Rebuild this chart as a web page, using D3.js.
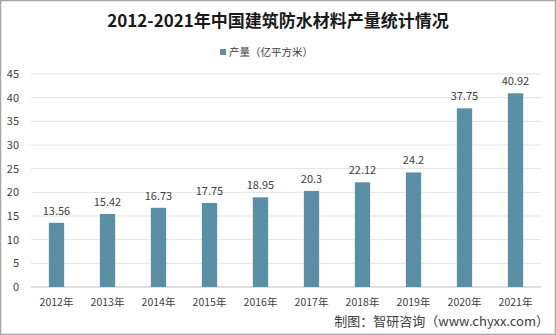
<!DOCTYPE html>
<html><head><meta charset="utf-8">
<script src="https://cdn.jsdelivr.net/npm/d3@7"></script>
<style>body{margin:0;background:#fff}svg{display:block}</style>
</head><body>
<script>
const categories = ["2012年","2013年","2014年","2015年","2016年","2017年","2018年","2019年","2020年","2021年"];
const values = [13.56,15.42,16.73,17.75,18.95,20.3,22.12,24.2,37.75,40.92];
const valueLabels = ["13.56","15.42","16.73","17.75","18.95","20.3","22.12","24.2","37.75","40.92"];
const yTicks = [0,5,10,15,20,25,30,35,40,45];
const title = "2012-2021年中国建筑防水材料产量统计情况";
const legendLabel = "产量（亿平方米）";
const source = "制图：智研咨询（www.chyxx.com）";

const W=556,H=335;
const font = "'Microsoft YaHei','Noto Sans CJK SC',sans-serif";
const svg=d3.select("body").append("svg").attr("width",W).attr("height",H);
svg.append("rect").attr("x",0.5).attr("y",0.5).attr("width",W-1).attr("height",H-1).attr("fill","#fff").attr("stroke","#a6a6a6").attr("stroke-width",1.5);

const x=d3.scaleBand().domain(categories).range([31,541]).paddingInner(0.7).paddingOuter(0.35);
const y=d3.scaleLinear().domain([0,45]).range([287,74]);

svg.append("g").selectAll("line").data(yTicks).join("line")
 .attr("x1",31).attr("x2",541).attr("y1",d=>y(d)).attr("y2",d=>y(d))
 .attr("stroke",d=>d===0?"#bfbfbf":"#e3e3e3").attr("stroke-width",1);

svg.append("g").selectAll("text").data(yTicks).join("text")
 .attr("x",19).attr("y",d=>y(d)+4).attr("text-anchor","end")
 .attr("font-family",font).attr("font-size",11).attr("fill","#404040").text(d=>d);

svg.append("g").selectAll("rect").data(values).join("rect")
 .attr("x",(d,i)=>x(categories[i])).attr("width",x.bandwidth())
 .attr("y",d=>y(d)).attr("height",d=>y(0)-y(d)).attr("fill","#5a8fa6");

svg.append("g").selectAll("text").data(values).join("text")
 .attr("x",(d,i)=>x(categories[i])+x.bandwidth()/2).attr("y",d=>y(d)-8)
 .attr("text-anchor","middle").attr("font-family",font).attr("font-size",11).attr("fill","#404040")
 .text((d,i)=>valueLabels[i]);

svg.append("g").selectAll("text").data(categories).join("text")
 .attr("x",d=>x(d)+x.bandwidth()/2).attr("y",306)
 .attr("text-anchor","middle").attr("font-family",font).attr("font-size",10.5).attr("fill","#404040").text(d=>d);

svg.append("text").attr("x",278).attr("y",27).attr("text-anchor","middle")
 .attr("font-family",font).attr("font-size",17).attr("font-weight","bold").attr("fill","#1a1a1a").text(title);

svg.append("rect").attr("x",220).attr("y",49).attr("width",6).attr("height",6).attr("fill","#5a8fa6");
svg.append("text").attr("x",229).attr("y",56).attr("font-family",font).attr("font-size",10.5).attr("fill","#404040").text(legendLabel);

svg.append("text").attr("x",549).attr("y",326).attr("text-anchor","end")
 .attr("font-family",font).attr("font-size",13).attr("fill","#404040").text(source);
</script>
</body></html>
